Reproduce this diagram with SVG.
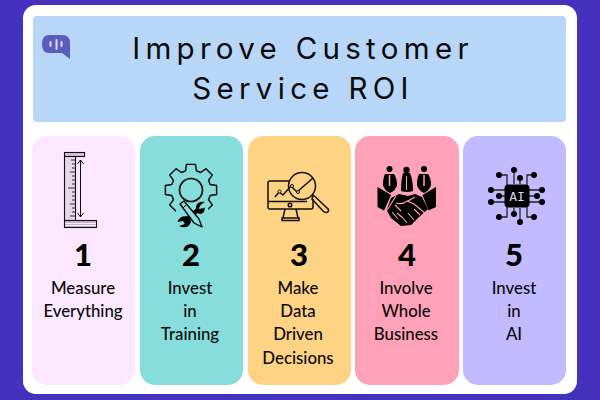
<svg xmlns="http://www.w3.org/2000/svg" width="600" height="400" viewBox="0 0 600 400">
<style>
.t{font-family:"Inter","Liberation Sans",sans-serif;font-size:29.500px;letter-spacing:5.300px;text-anchor:middle;fill:#0a0a0a}
.n{font-family:"Lato","Liberation Sans",sans-serif;font-weight:900;font-size:31px;text-anchor:middle;fill:#000}
.l{font-family:"Lato","Liberation Sans",sans-serif;font-weight:500;font-size:16.800px;text-anchor:middle;fill:#0a0a0a}
.k{fill:none;stroke:#000;stroke-width:1.4;stroke-linejoin:round;stroke-linecap:round}
.b{fill:#000}
.c{fill:none;stroke:#111;stroke-width:1.5}
</style>
<rect width="600" height="400" fill="#4431BD"/>
<rect x="23" y="5" width="554" height="389" rx="13" fill="#fff"/>
<g id="banner">
<rect x="33" y="16" width="533" height="106" rx="4" fill="#B8D6F7"/>
<path d="M49 35H62Q70 35 70 43V59L62 53H49Q42 53 42 44Q42 35 49 35Z" fill="#5B5CBE"/>
<path d="M50.500 42V46M56.500 40V49M61.500 42V46" stroke="#D5DDF5" stroke-width="2" stroke-linecap="round" fill="none"/>
<text class="t" x="303" y="59">Improve Customer</text>
<text class="t" x="303" y="99">Service ROI</text>
</g>
<g id="card1">
<rect x="32" y="136" width="103" height="249" rx="15" fill="#FBE8FE"/>
<rect x="64.500" y="152.500" width="20" height="4" fill="#D9C3D8" stroke="#111" stroke-width="1.1"/>
<rect x="64.500" y="156.500" width="11" height="64" fill="#E9D5E8" stroke="#111" stroke-width="1.1"/>
<rect x="64.500" y="220.500" width="32" height="7" fill="#C9B3C8" stroke="#111" stroke-width="1.1"/>
<path d="M65 223.500H96M65 225.500H96" stroke="#fff" stroke-width=".8"/>
<path d="M75 160H71M75 164H72M75 168H72M75 172H70M75 176H72M75 180H72M75 184H72M75 188H68M75 192H72M75 196H72M75 200H72M75 204H70M75 208H72M75 212H72M75 216H70" stroke="#333" stroke-width="1"/>
<path d="M80.500 160V217M77.500 164L80.500 160L83.500 164M77.500 213L80.500 217L83.500 213" fill="none" stroke="#111" stroke-width="1"/>
<text class="n" x="83" y="266">1</text>
<text class="l" x="83" y="294">Measure</text>
<text class="l" x="83" y="317">Everything</text>
</g>
<g id="card2">
<rect x="140" y="136" width="103" height="249" rx="15" fill="#87DDDB"/>
<polygon transform="translate(191 190)" class="k" stroke-width="1.6" points="4.500,-25.600 5.500,-19.200 9.700,-17.500 14.900,-21.300 21.300,-14.900 17.500,-9.700 19.200,-5.500 25.600,-4.500 25.600,4.500 19.200,5.500 17.500,9.700 21.300,14.900 14.900,21.300 9.700,17.500 5.500,19.200 4.500,25.600 -4.500,25.600 -5.500,19.200 -9.700,17.500 -14.900,21.300 -21.300,14.900 -17.500,9.700 -19.200,5.500 -25.600,4.500 -25.600,-4.500 -19.200,-5.500 -17.500,-9.700 -21.300,-14.900 -14.900,-21.300 -9.700,-17.500 -5.500,-19.200 -4.500,-25.600"/>
<circle cx="191" cy="190" r="11.500" fill="none" stroke="#000" stroke-width="1.600"/>
<path d="M178 203L208 203L208 232L174 232L176 209Z" fill="#87DDDB"/>
<path d="M199 209L186 220" stroke="#000" stroke-width="4.500"/>
<path d="M205 202Q197 201 196 207Q195 214 201 214Q205 212 204 208L199 209Q199 205 205 202Z" fill="#000"/>
<path d="M205 207L200 214L204 212Z" fill="#000"/>
<path d="M190 217Q180 214 177.500 222L183 221L185 224L179 226Q188 230 191 222Z" fill="#000"/>
<path d="M180 204L184 201L199 219L202 227L194 223Z" fill="#87DDDB" stroke="#000" stroke-width="1.300" stroke-linejoin="round"/>
<path d="M183 208L187 204" stroke="#000" stroke-width="1"/>
<text class="n" x="191" y="266">2</text>
<text class="l" x="190" y="294">Invest</text>
<text class="l" x="190" y="317">in</text>
<text class="l" x="190" y="340">Training</text>
</g>
<g id="card3">
<rect x="248" y="136" width="103" height="249" rx="15" fill="#FFD384"/>
<path d="M289 181H270Q268 181 268 183V207Q268 209 270 209H311Q313 209 313 207V199M268 201.500H307" class="c"/>
<circle cx="290" cy="205" r="1.800" class="c"/>
<path d="M285 209L283 218H298L296 209M282 218H299V220.500H282Z" class="c"/>
<circle cx="302" cy="186" r="13.500" class="c"/>
<path d="M275 197L279 192L283 195L291 186L297 192L313 178" class="c"/>
<circle cx="279.500" cy="191.500" r="1.500" fill="#FFD384" stroke="#111"/><circle cx="292" cy="186" r="1.500" fill="#FFD384" stroke="#111"/><circle cx="298" cy="192" r="1.500" fill="#FFD384" stroke="#111"/>
<path d="M313 195L316 197.500L328.500 209.500Q329 212 326.500 212.500Q325 213 323 211L312 199Z" class="c"/>
<text class="n" x="299" y="266">3</text>
<text class="l" x="298" y="294">Make</text>
<text class="l" x="298" y="317">Data</text>
<text class="l" x="298" y="340">Driven</text>
<text class="l" x="298" y="364">Decisions</text>
</g>
<g id="card4">
<rect x="355" y="136" width="104" height="249" rx="15" fill="#FFA1B8"/>
<circle class="b" cx="389.500" cy="169" r="3"/><circle class="b" cx="406.500" cy="170" r="3.200"/><circle class="b" cx="424" cy="169" r="3"/>
<path class="b" d="M385 174H394Q397 178 397 185Q396 190 390 193Q384 190 383 185Q383 178 385 174Z"/>
<path d="M389.500 175V186" stroke="#FFA1B8" stroke-width="1.500"/>
<path class="b" d="M403 173H410Q413 180 413 191Q407 193 401 191Q401 180 403 173Z"/>
<path d="M406.500 176V190" stroke="#FFA1B8" stroke-width="1"/>
<path class="b" d="M419 174H428Q431 178 431 185Q430 190 424 193Q418 190 417 185Q417 178 419 174Z"/>
<path d="M424 175V186" stroke="#FFA1B8" stroke-width="1.500"/>
<polygon class="b" points="377.500,187 391,195 384,210.500 377.500,207"/>
<polygon class="b" points="436,187 436,207 428.500,210.500 422.500,195"/>
<polygon class="b" points="391,198 399,194 408,196 415,194 422,197 428,209 418,218 411,225 401,226 391,218 386.500,210"/>
<path d="M396 196L386.500 211M395 205L401 211M397 213L403 218M392 212L398 219M396 203Q402 205 407 201L414 204L426 214M408 201L415 197M402 217L407 223M408 213L414 220M414 209L420 215" fill="none" stroke="#FFA1B8" stroke-width="1.100"/>
<text class="n" x="407" y="266">4</text>
<text class="l" x="406" y="294">Involve</text>
<text class="l" x="406" y="317">Whole</text>
<text class="l" x="406" y="340">Business</text>
</g>
<g id="card5">
<rect x="463" y="136" width="103" height="249" rx="15" fill="#C3BBFF"/>
<path d="M514 184V171M520 184V178M507 185V175H499M527 185V175H534M505 190H492M505 196H498M505 202H491M529 190H542M529 196H537M529 202H542M507 207V217H499M527 207V217H534M514 208V214M520 208V222" fill="none" stroke="#222" stroke-width="1.300"/>
<rect class="b" x="504.500" y="184.500" width="25" height="23" rx="4"/>
<text x="517" y="201" text-anchor="middle" font-family="'DejaVu Sans Mono','Liberation Mono',monospace" font-size="13" fill="#D8D4FF">AI</text>
<g class="b">
<circle cx="514" cy="170" r="3"/><circle cx="520" cy="178" r="3"/><circle cx="499" cy="175" r="3"/><circle cx="534" cy="175" r="3"/>
<circle cx="491" cy="190" r="3"/><circle cx="499" cy="196" r="3"/><circle cx="491" cy="202" r="3"/>
<circle cx="542" cy="190" r="3"/><circle cx="537" cy="196" r="3"/><circle cx="542" cy="202" r="3"/>
<circle cx="499" cy="217" r="3"/><circle cx="534" cy="217" r="3"/><circle cx="514" cy="214" r="3"/><circle cx="520" cy="222" r="3"/>
</g>
<text class="n" x="514" y="266">5</text>
<text class="l" x="514" y="294">Invest</text>
<text class="l" x="514" y="317">in</text>
<text class="l" x="514" y="340">AI</text>
</g>
</svg>
